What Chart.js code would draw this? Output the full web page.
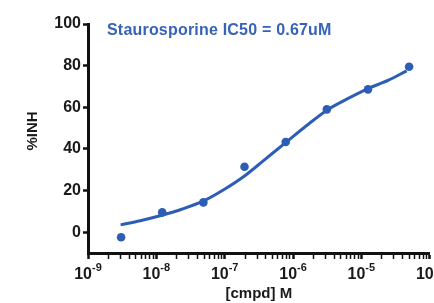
<!DOCTYPE html>
<html>
<head>
<meta charset="utf-8">
<script src="https://cdn.jsdelivr.net/npm/chart.js@4"></script>
<style>
html,body{margin:0;padding:0;background:#fff;}
#wrap{width:434px;height:303px;position:relative;}
</style>
</head>
<body>
<div id="wrap"><canvas id="c" width="434" height="303"></canvas></div>
<script>
// Measured data (concentration in M, % inhibition)
const concentrations = [3.05e-9, 1.22e-8, 4.88e-8, 1.95e-7, 7.81e-7, 3.125e-6, 1.25e-5, 5e-5];
const inhibition = [-2.4, 9.5, 14.3, 31.4, 43.3, 59.0, 68.6, 79.5];
// Fitted curve
const curveConc = [3e-9, 5.8e-9, 1.17e-8, 2.35e-8, 4.9e-8, 9.8e-8, 1.95e-7, 3.9e-7, 7.8e-7, 1.55e-6, 3.1e-6, 6.2e-6, 1.25e-5, 2.5e-5, 4.6e-5];
const curveFit = [3.5, 5.5, 8, 11, 15, 20.5, 27, 35, 43, 51, 58.5, 64, 69, 73, 77.5];
const yTicks = [0, 20, 40, 60, 80, 100];
const xMajorExponents = [-9, -8, -7, -6, -5, -4];
const annotationText = 'Staurosporine IC50 = 0.67uM';
const xTitle = '[cmpd] M';
const yTitle = '%INH';

const blue = '#2d5db4';
const FONT = '"Liberation Sans", Arial, Helvetica, sans-serif';

const pointsData = concentrations.map((x, i) => ({x, y: inhibition[i]}));
const curveData = curveConc.map((x, i) => ({x, y: curveFit[i]}));

const labelsPlugin = {
  id: 'customLabels',
  afterDraw(chart) {
    const ctx = chart.ctx;
    const xs = chart.scales.x;
    ctx.save();
    ctx.fillStyle = '#1a1a1a';
    ctx.textBaseline = 'alphabetic';
    xMajorExponents.forEach(e => {
      const px = xs.getPixelForValue(Math.pow(10, e));
      const base = '10';
      const sup = String(e);
      ctx.font = 'bold 16px ' + FONT;
      const wb = ctx.measureText(base).width;
      ctx.font = 'bold 11px ' + FONT;
      const ws = ctx.measureText(sup).width;
      const start = px - (wb + ws) / 2;
      ctx.font = 'bold 16px ' + FONT;
      ctx.textAlign = 'left';
      ctx.fillText(base, start, 279);
      ctx.font = 'bold 11px ' + FONT;
      ctx.fillText(sup, start + wb, 271);
    });
    // y-axis title
    ctx.save();
    ctx.translate(33, 131);
    ctx.rotate(-Math.PI / 2);
    ctx.font = 'bold 15px ' + FONT;
    ctx.textAlign = 'center';
    ctx.textBaseline = 'middle';
    ctx.fillText(yTitle, 0, 0);
    ctx.restore();
    // annotation
    ctx.font = 'bold 16px ' + FONT;
    ctx.fillStyle = '#3762b9';
    ctx.textAlign = 'left';
    ctx.textBaseline = 'middle';
    try { ctx.letterSpacing = '0.2px'; } catch (err) {}
    ctx.fillText(annotationText, 107, 31);
    ctx.restore();
  }
};

new Chart(document.getElementById('c'), {
  type: 'scatter',
  data: {
    datasets: [
      {
        type: 'line',
        data: curveData,
        borderColor: blue,
        borderWidth: 3,
        pointRadius: 0,
        fill: false,
        cubicInterpolationMode: 'monotone'
      },
      {
        type: 'scatter',
        data: pointsData,
        backgroundColor: blue,
        borderColor: blue,
        pointRadius: 4.3,
        borderWidth: 0
      }
    ]
  },
  options: {
    responsive: false,
    animation: false,
    devicePixelRatio: 1,
    layout: {padding: {top: 24, right: 2, left: 0, bottom: 0}},
    plugins: {legend: {display: false}, tooltip: {enabled: false}},
    scales: {
      x: {
        type: 'logarithmic',
        min: 1e-9,
        max: 1e-4,
        afterBuildTicks(scale) {
          const t = [];
          for (let e = -9; e <= -4; e++) {
            for (let m = 1; m <= 9; m++) {
              const v = m * Math.pow(10, e);
              if (v <= 1e-4 * 1.0001) t.push({value: v, major: m === 1});
            }
          }
          scale.ticks = t;
        },
        afterFit(scale) { scale.height = 50; },
        ticks: {
          autoSkip: false,
          maxRotation: 0,
          callback: () => ''
        },
        grid: {
          drawOnChartArea: false,
          drawTicks: true,
          tickLength: 6,
          tickColor: '#111',
          tickWidth: ctx => (ctx.tick && ctx.tick.major ? 2.5 : 1.5)
        },
        border: {display: true, color: '#111', width: 3},
        title: {
          display: true,
          text: xTitle,
          color: '#1a1a1a',
          font: {family: FONT, size: 15, weight: 'bold'},
          padding: {top: 0, bottom: 0}
        }
      },
      y: {
        type: 'linear',
        min: -10,
        max: 100,
        afterBuildTicks(scale) {
          scale.ticks = yTicks.map(v => ({value: v}));
        },
        afterFit(scale) { scale.width = 88; },
        ticks: {
          color: '#1a1a1a',
          font: {family: FONT, size: 16, weight: 'bold'},
          padding: 2
        },
        grid: {
          drawOnChartArea: false,
          drawTicks: true,
          tickLength: 5,
          tickColor: '#111',
          tickWidth: 2.5
        },
        border: {display: true, color: '#111', width: 3},
        title: {display: false}
      }
    }
  },
  plugins: [labelsPlugin]
});
</script>
</body>
</html>
